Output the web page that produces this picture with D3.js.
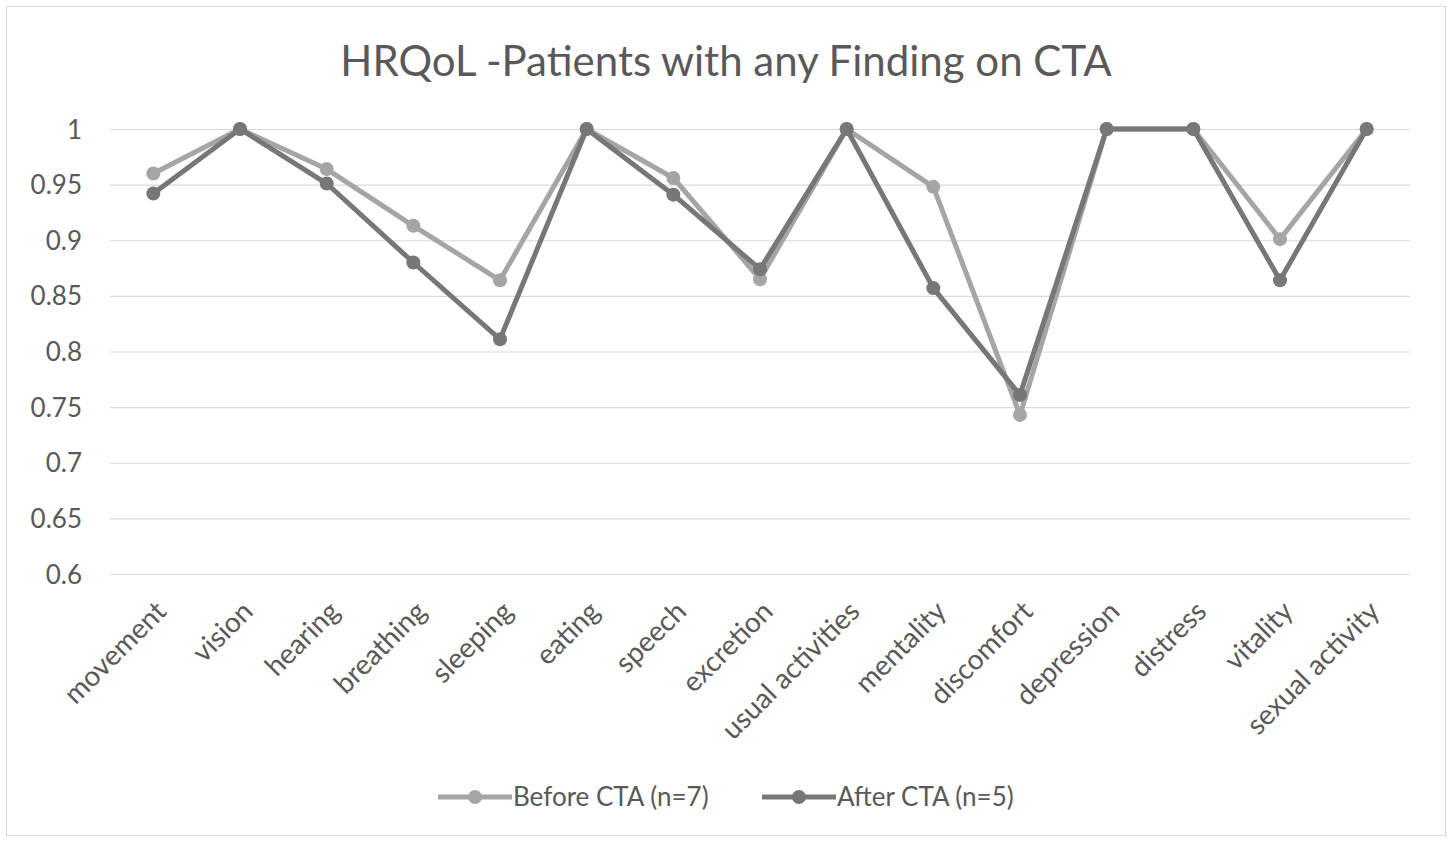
<!DOCTYPE html>
<html>
<head>
<meta charset="utf-8">
<script src="https://cdn.jsdelivr.net/npm/d3@7"></script>
<style>
  body { margin: 0; background: #fff; }
  text { font-family: Lato, 'Noto Sans', sans-serif; fill: #595959; }
</style>
</head>
<body>
<div id="chart"></div>
<script>
const categories = ['movement', 'vision', 'hearing', 'breathing', 'sleeping', 'eating', 'speech',
  'excretion', 'usual activities', 'mentality', 'discomfort', 'depression', 'distress',
  'vitality', 'sexual activity'];
const beforeValues = [0.96, 1, 0.964, 0.913, 0.864, 1, 0.956, 0.865, 1, 0.948, 0.743, 1, 1, 0.901, 1];
const afterValues = [0.942, 1, 0.951, 0.88, 0.811, 1, 0.941, 0.874, 1, 0.857, 0.761, 1, 1, 0.864, 1];
const yTicks = [0.6, 0.65, 0.7, 0.75, 0.8, 0.85, 0.9, 0.95, 1];
const seriesNames = ['Before CTA (n=7)', 'After CTA (n=5)'];

const LIGHT = '#A5A5A5';
const DARK = '#777777';
const FONT_SIZE = 26;

const width = 1452;
const height = 842;
const margin = { left: 110, right: 42, top: 129, bottom: 268 };

const svg = d3.select('#chart').append('svg')
  .attr('width', width)
  .attr('height', height);

// outer frame
svg.append('rect')
  .attr('x', 6.5).attr('y', 6.5)
  .attr('width', width - 13).attr('height', height - 13)
  .attr('fill', '#fff')
  .attr('stroke', '#D9D9D9');

svg.append('text')
  .attr('x', 726).attr('y', 76)
  .attr('text-anchor', 'middle')
  .attr('font-size', 42)
  .text('HRQoL -Patients with any Finding on CTA');

const x = d3.scalePoint()
  .domain(categories)
  .range([margin.left, width - margin.right])
  .padding(0.5);

const y = d3.scaleLinear()
  .domain([0.6, 1])
  .range([height - margin.bottom, margin.top]);

// gridlines
const grid = svg.append('g')
  .attr('transform', `translate(${margin.left}, 0)`)
  .call(d3.axisLeft(y).tickValues(yTicks).tickSize(-(width - margin.left - margin.right)).tickFormat(''));
grid.select('.domain').remove();
grid.selectAll('line').attr('stroke', '#D9D9D9').attr('stroke-width', 1.2);

// y labels
const yAxis = svg.append('g')
  .attr('transform', `translate(${margin.left - 28}, 0)`)
  .call(d3.axisLeft(y).tickValues(yTicks).tickSize(0).tickPadding(0).tickFormat(d3.format('')));
yAxis.select('.domain').remove();
yAxis.selectAll('text')
  .attr('font-size', FONT_SIZE)
  .attr('dy', '0.35em')
  .style('font-family', 'Lato, sans-serif')
  .attr('fill', '#595959');

// x labels
const xAxis = svg.append('g')
  .attr('transform', `translate(0, ${height - margin.bottom})`)
  .call(d3.axisBottom(x).tickSize(0).tickFormat(d => d));
xAxis.select('.domain').remove();
xAxis.selectAll('text')
  .attr('font-size', 28)
  .attr('text-anchor', 'end')
  .attr('dy', 0)
  .attr('transform', 'translate(12, 37) rotate(-45)')
  .style('font-family', 'Lato, sans-serif')
  .attr('fill', '#595959');

const line = d3.line()
  .x((d, i) => x(categories[i]))
  .y(d => y(d));

const series = [
  { values: beforeValues, color: LIGHT },
  { values: afterValues, color: DARK }
];

series.forEach(s => {
  svg.append('path')
    .attr('d', line(s.values))
    .attr('fill', 'none')
    .attr('stroke', s.color)
    .attr('stroke-width', 5)
    .attr('stroke-linejoin', 'round');
  svg.append('g')
    .selectAll('circle')
    .data(s.values)
    .enter()
    .append('circle')
    .attr('cx', (d, i) => x(categories[i]))
    .attr('cy', d => y(d))
    .attr('r', 7)
    .attr('fill', s.color);
});

// legend
const legendY = 797;
const legendItems = [
  { name: seriesNames[0], color: LIGHT, x: 438 },
  { name: seriesNames[1], color: DARK, x: 762 }
];
legendItems.forEach(item => {
  svg.append('line')
    .attr('x1', item.x).attr('x2', item.x + 74)
    .attr('y1', legendY).attr('y2', legendY)
    .attr('stroke', item.color)
    .attr('stroke-width', 5);
  svg.append('circle')
    .attr('cx', item.x + 37).attr('cy', legendY)
    .attr('r', 7)
    .attr('fill', item.color);
  svg.append('text')
    .attr('x', item.x + 75).attr('y', legendY)
    .attr('dy', '0.35em')
    .attr('font-size', FONT_SIZE)
    .text(item.name);
});
</script>
</body>
</html>
